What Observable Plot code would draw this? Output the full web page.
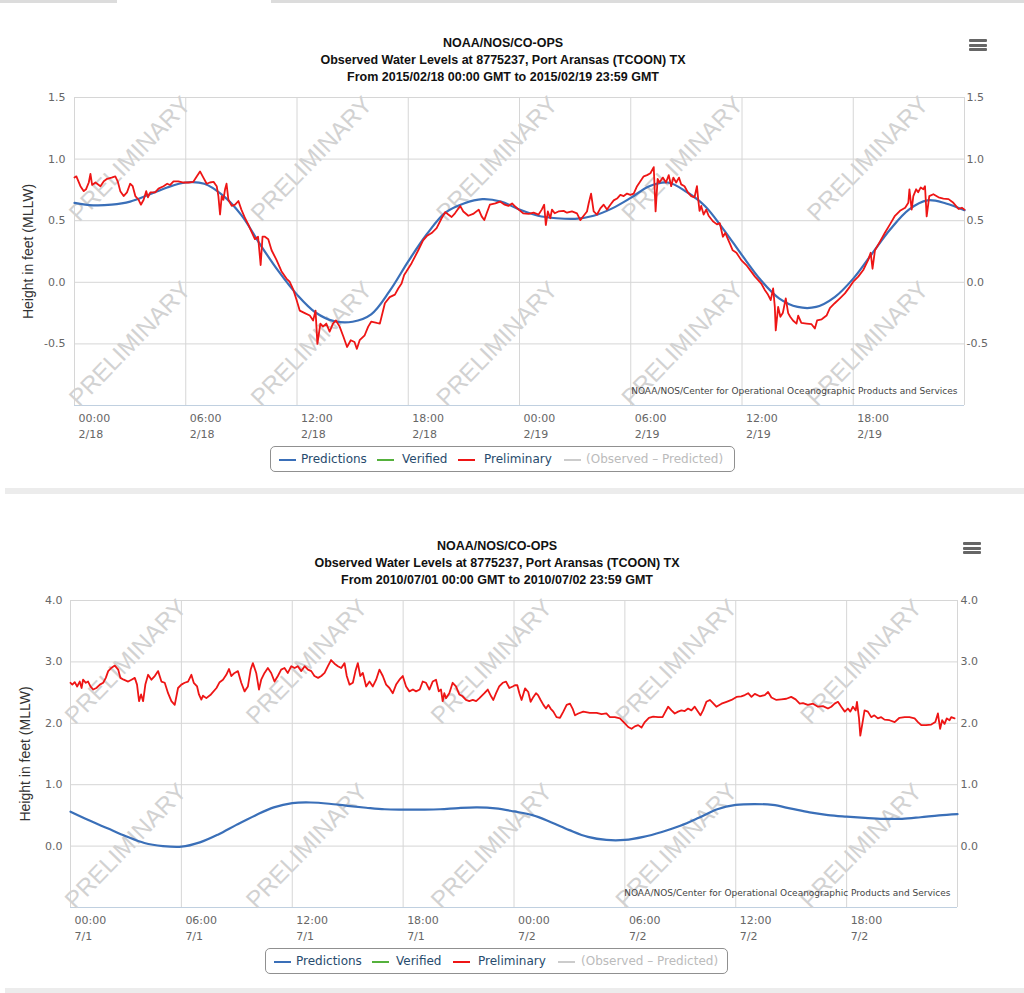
<!DOCTYPE html>
<html>
<head>
<meta charset="utf-8">
<script src="https://cdn.jsdelivr.net/npm/d3@7"></script>
<script src="https://cdn.jsdelivr.net/npm/@observablehq/plot@0.6"></script>
<style>
  html, body { margin: 0; padding: 0; background: #fff; }
  body { width: 1024px; height: 993px; position: relative; overflow: hidden; font-family: "Liberation Sans", Arial, sans-serif; }
  .title { position: absolute; left: 0; text-align: center; font-weight: bold; font-size: 12.5px; color: #111; line-height: 17px; }
  .legend { position: absolute; border: 1px solid #909090; border-radius: 5px; box-sizing: border-box; font-family: "DejaVu Sans", sans-serif; font-size: 12px; color: #274b6d; }
  .legend .sym { position: absolute; height: 2px; width: 17px; }
  .legend .txt { position: absolute; white-space: nowrap; line-height: 14px; }
  .burger { position: absolute; width: 18px; }
  .burger div { height: 3px; background: #666; margin-bottom: 1.5px; border-radius: 1px; }
  .bar { position: absolute; background: #e6e6e6; }
</style>
</head>
<body>
<script>
// ---------------- DATA ----------------
// Panel 1: 2015/02/18 - 2015/02/19 (hours since 2015-02-18 00:00 GMT)
const topTitle = ["NOAA/NOS/CO-OPS", "Observed Water Levels at 8775237, Port Aransas (TCOON) TX", "From 2015/02/18 00:00 GMT to 2015/02/19 23:59 GMT"];
const topPredHours = d3.range(0, 49); // hourly
const topPredLevels = [0.645, 0.625, 0.63, 0.655, 0.71, 0.77, 0.81, 0.80, 0.705, 0.545, 0.31, 0.09, -0.10, -0.245, -0.315, -0.32, -0.26, -0.07, 0.17, 0.39, 0.565, 0.64, 0.675, 0.655, 0.59, 0.54, 0.52, 0.515, 0.54, 0.60, 0.685, 0.78, 0.81, 0.735, 0.62, 0.43, 0.22, 0.02, -0.13, -0.20, -0.20, -0.12, 0.03, 0.23, 0.43, 0.59, 0.665, 0.64, 0.585];
const topObserved = [
  [0,0.85],[0.1,0.86],[0.32,0.78],[0.5,0.74],[0.62,0.755],[0.77,0.81],[0.86,0.88],[0.95,0.79],[1.13,0.81],[1.4,0.78],[1.58,0.82],[1.76,0.84],[2.0,0.85],[2.2,0.86],[2.33,0.82],[2.47,0.74],[2.65,0.70],[2.83,0.73],[3.0,0.80],[3.14,0.78],[3.28,0.70],[3.46,0.67],[3.58,0.63],[3.73,0.67],[3.87,0.74],[3.96,0.69],[4.09,0.73],[4.35,0.73],[4.53,0.76],[4.8,0.78],[5.0,0.80],[5.16,0.79],[5.34,0.82],[5.6,0.82],[5.88,0.81],[6.15,0.81],[6.4,0.815],[6.6,0.86],[6.77,0.90],[6.95,0.85],[7.13,0.80],[7.3,0.81],[7.5,0.815],[7.67,0.78],[7.76,0.70],[7.85,0.55],[7.94,0.70],[8.03,0.67],[8.12,0.755],[8.2,0.80],[8.3,0.67],[8.48,0.62],[8.66,0.63],[8.84,0.66],[9.0,0.59],[9.2,0.52],[9.37,0.47],[9.55,0.41],[9.73,0.35],[9.9,0.37],[10.04,0.14],[10.14,0.37],[10.27,0.37],[10.45,0.35],[10.63,0.26],[10.9,0.18],[11.16,0.09],[11.43,0.03],[11.6,0.005],[11.8,-0.06],[11.97,-0.14],[12.15,-0.23],[12.42,-0.25],[12.69,-0.27],[12.87,-0.31],[13.0,-0.23],[13.1,-0.50],[13.26,-0.335],[13.4,-0.36],[13.58,-0.335],[13.76,-0.40],[13.94,-0.335],[14.1,-0.31],[14.3,-0.36],[14.5,-0.44],[14.7,-0.525],[14.9,-0.47],[15.1,-0.485],[15.23,-0.54],[15.38,-0.47],[15.65,-0.43],
  [15.84,-0.36],[16.0,-0.32],[16.3,-0.33],[16.47,-0.335],[16.56,-0.28],[16.74,-0.17],[17.0,-0.12],[17.28,-0.10],[17.46,-0.05],[17.64,-0.01],[17.78,0.06],[17.9,0.087],[18.18,0.155],[18.54,0.26],[18.8,0.34],[19.0,0.375],[19.26,0.40],[19.53,0.44],[19.8,0.52],[20.0,0.57],[20.16,0.55],[20.34,0.53],[20.52,0.56],[20.8,0.62],[20.97,0.575],[21.24,0.54],[21.5,0.555],[21.8,0.59],[21.96,0.535],[22.1,0.505],[22.23,0.56],[22.4,0.63],[22.7,0.64],[22.95,0.655],[23.2,0.63],[23.4,0.62],[23.6,0.64],[23.77,0.615],[23.96,0.59],[24.2,0.56],[24.5,0.555],[24.76,0.565],[25.03,0.55],[25.2,0.59],[25.33,0.63],[25.42,0.465],[25.53,0.575],[25.66,0.52],[25.75,0.59],[25.9,0.56],[26.1,0.575],[26.38,0.58],[26.56,0.565],[26.83,0.575],[27.1,0.56],[27.28,0.505],[27.46,0.54],[27.64,0.575],[27.73,0.64],[27.86,0.72],[28.0,0.575],[28.18,0.55],[28.36,0.60],[28.54,0.63],[28.72,0.59],[28.9,0.63],[29.08,0.665],[29.26,0.68],[29.44,0.71],[29.62,0.70],[29.8,0.72],[29.98,0.71],[30.16,0.72],[30.34,0.78],[30.52,0.82],[30.7,0.86],[30.88,0.87],[31.06,0.885],[31.24,0.935],[31.34,0.575],[31.45,0.84],
  [31.55,0.81],[31.73,0.85],[31.9,0.81],[32.05,0.87],[32.18,0.78],[32.3,0.85],[32.45,0.81],[32.6,0.85],[32.72,0.795],[32.9,0.78],[33.08,0.73],[33.26,0.70],[33.44,0.69],[33.57,0.78],[33.64,0.67],[33.71,0.58],[33.8,0.62],[33.93,0.55],[34.07,0.59],[34.2,0.54],[34.43,0.495],[34.65,0.47],[34.8,0.48],[34.97,0.37],[35.1,0.40],[35.24,0.35],[35.37,0.305],[35.5,0.26],[35.7,0.24],[35.96,0.18],[36.23,0.14],[36.5,0.087],[36.7,0.046],[36.86,0.02],[37.04,-0.01],[37.22,-0.06],[37.4,-0.10],[37.55,-0.145],[37.68,-0.05],[37.77,-0.20],[37.82,-0.39],[37.95,-0.20],[38.07,-0.28],[38.2,-0.25],[38.36,-0.13],[38.49,-0.25],[38.6,-0.28],[38.75,-0.31],[38.94,-0.335],[39.03,-0.27],[39.2,-0.33],[39.48,-0.335],[39.75,-0.34],[39.93,-0.375],[40.05,-0.31],[40.3,-0.30],[40.56,-0.27],[40.74,-0.21],[41.0,-0.17],[41.28,-0.13],[41.55,-0.09],[41.82,-0.035],[42.0,0.005],[42.27,0.046],[42.54,0.10],[42.8,0.18],[42.94,0.24],[43.04,0.11],[43.17,0.26],[43.44,0.33],[43.7,0.40],[43.98,0.47],[44.25,0.54],[44.52,0.58],[44.8,0.605],[44.97,0.645],[45.03,0.755],[45.15,0.59],[45.24,0.70],[45.39,0.755],[45.5,0.73],[45.64,0.77],[45.78,0.755],[45.87,0.78],[45.96,0.535],[46.1,0.70],[46.32,0.715],[46.6,0.69],[46.86,0.68],[47.14,0.675],[47.4,0.645],[47.68,0.595],[47.86,0.605],[48.0,0.59]
];
const topYTicks = [-0.5, 0, 0.5, 1.0, 1.5];
const topYDomain = [-1, 1.5];
const topTickHours = [0, 6, 12, 18, 24, 30, 36, 42];
const topTickLabels = ["00:00\n2/18", "06:00\n2/18", "12:00\n2/18", "18:00\n2/18", "00:00\n2/19", "06:00\n2/19", "12:00\n2/19", "18:00\n2/19"];
const topWatermarkLevels = [1.0, -0.5];

// Panel 2: 2010/07/01 - 2010/07/02 (hours since 2010-07-01 00:00 GMT)
const botTitle = ["NOAA/NOS/CO-OPS", "Observed Water Levels at 8775237, Port Aransas (TCOON) TX", "From 2010/07/01 00:00 GMT to 2010/07/02 23:59 GMT"];
const botPredHours = d3.range(0, 49);
const botPredLevels = [0.56, 0.42, 0.29, 0.16, 0.05, 0.0, -0.01, 0.06, 0.19, 0.35, 0.50, 0.63, 0.70, 0.71, 0.69, 0.655, 0.625, 0.60, 0.595, 0.595, 0.60, 0.62, 0.63, 0.615, 0.565, 0.505, 0.39, 0.26, 0.15, 0.10, 0.10, 0.15, 0.23, 0.33, 0.46, 0.60, 0.67, 0.685, 0.67, 0.61, 0.55, 0.505, 0.48, 0.46, 0.445, 0.445, 0.47, 0.50, 0.52];
const botObserved = [
  [0,2.66],[0.1,2.63],[0.23,2.67],[0.36,2.60],[0.5,2.68],[0.6,2.575],[0.68,2.71],[0.83,2.66],[0.95,2.68],[1.08,2.60],[1.23,2.55],[1.4,2.575],[1.59,2.63],[1.77,2.66],[1.91,2.74],[2.04,2.85],[2.2,2.90],[2.4,2.94],[2.58,2.875],[2.7,2.74],[2.88,2.71],[3.12,2.68],[3.3,2.71],[3.48,2.74],[3.6,2.63],[3.71,2.36],[3.82,2.47],[3.93,2.36],[4.05,2.63],[4.2,2.79],[4.38,2.71],[4.56,2.77],[4.74,2.85],[4.92,2.68],[5.1,2.66],[5.28,2.49],[5.46,2.36],[5.64,2.30],[5.82,2.575],[6.0,2.63],[6.18,2.66],[6.36,2.68],[6.54,2.79],[6.67,2.66],[6.85,2.60],[6.95,2.47],[7.08,2.385],[7.17,2.45],[7.35,2.41],[7.6,2.47],[7.9,2.575],[8.07,2.67],[8.25,2.71],[8.43,2.79],[8.58,2.885],[8.7,2.77],[8.88,2.82],[9.06,2.85],[9.24,2.66],[9.42,2.52],[9.6,2.60],[9.75,2.875],[9.87,2.98],[10.05,2.82],[10.2,2.55],[10.32,2.71],[10.5,2.82],[10.68,2.90],[10.86,2.82],[11.04,2.68],[11.22,2.77],[11.4,2.875],[11.58,2.90],[11.76,2.82],[11.95,2.93],[12.13,2.90],[12.3,2.93],[12.49,2.85],[12.67,2.93],[12.85,2.875],[13.03,2.85],[13.2,2.77],[13.4,2.74],[13.57,2.77],[13.75,2.82],[13.93,2.93],[14.1,3.03],[14.29,2.97],[14.47,2.93],[14.65,2.90],[14.83,2.98],[14.95,2.77],[15.1,2.63],[15.28,2.66],[15.42,2.85],[15.55,2.98],[15.68,2.77],[15.82,2.82],[16.0,2.60],[16.18,2.68],[16.36,2.60],[16.54,2.71],[16.72,2.875],[16.9,2.77],[17.08,2.63],[17.26,2.575],[17.44,2.49],[17.62,2.63],[17.8,2.71],[17.98,2.77],[18.16,2.60],[18.34,2.52],[18.53,2.55],[18.7,2.52],[18.9,2.55],[19.06,2.68],[19.24,2.66],[19.42,2.55],[19.6,2.68],[19.78,2.71],[19.93,2.52],[20.05,2.55],[20.14,2.36],[20.23,2.49],[20.32,2.41],[20.5,2.49],[20.68,2.66],[20.86,2.60],[21.04,2.47],[21.22,2.44],[21.4,2.38],[21.58,2.36],[21.77,2.38],[21.95,2.36],[22.13,2.41],[22.4,2.49],[22.58,2.55],[22.76,2.44],[22.88,2.38],[23.03,2.49],[23.2,2.60],[23.39,2.66],[23.57,2.68],[23.75,2.575],[23.93,2.60],
  [24.05,2.62],[24.18,2.62],[24.29,2.49],[24.41,2.38],[24.6,2.57],[24.77,2.51],[24.9,2.35],[25.05,2.43],[25.19,2.49],[25.3,2.46],[25.44,2.38],[25.59,2.30],[25.73,2.24],[25.86,2.30],[25.98,2.24],[26.13,2.19],[26.3,2.10],[26.49,2.09],[26.67,2.19],[26.85,2.30],[27.03,2.32],[27.17,2.24],[27.3,2.13],[27.48,2.16],[27.75,2.19],[28.1,2.17],[28.47,2.17],[28.74,2.15],[29.0,2.16],[29.19,2.10],[29.46,2.10],[29.73,2.08],[30.0,2.0],[30.18,1.94],[30.36,1.91],[30.54,1.95],[30.72,1.97],[30.9,1.93],[31.08,2.02],[31.3,2.09],[31.53,2.11],[31.8,2.10],[32.04,2.10],[32.16,2.17],[32.34,2.27],[32.52,2.21],[32.7,2.16],[32.88,2.19],[33.06,2.21],[33.24,2.20],[33.42,2.24],[33.6,2.21],[33.78,2.27],[33.96,2.19],[34.09,2.13],[34.23,2.21],[34.41,2.35],[34.6,2.38],[34.77,2.33],[34.95,2.27],[35.23,2.32],[35.5,2.35],[35.77,2.38],[36.04,2.43],[36.3,2.44],[36.49,2.46],[36.67,2.49],[36.85,2.43],[37.03,2.48],[37.3,2.44],[37.57,2.46],[37.75,2.51],[37.93,2.42],[38.2,2.38],[38.47,2.39],[38.74,2.40],[39.0,2.43],[39.24,2.39],[39.46,2.32],[39.64,2.33],[39.9,2.30],[40.18,2.32],[40.45,2.27],[40.72,2.28],[40.99,2.24],[41.17,2.27],[41.35,2.32],[41.53,2.35],[41.71,2.27],[41.9,2.19],[42.07,2.24],[42.2,2.19],[42.34,2.27],[42.49,2.21],[42.56,2.35],[42.67,2.08],[42.74,1.80],[42.85,1.99],[42.97,2.21],[43.15,2.19],[43.33,2.10],[43.5,2.13],[43.69,2.08],[43.87,2.10],[44.05,2.06],[44.32,2.05],[44.6,2.02],[44.86,2.09],[45.14,2.10],[45.4,2.10],[45.68,2.08],[45.86,2.02],[46.04,1.97],[46.3,1.97],[46.58,1.98],[46.8,2.02],[46.94,2.16],[47.06,1.91],[47.17,2.05],[47.3,1.99],[47.42,2.08],[47.57,2.05],[47.66,2.10],[47.84,2.08]
];
const botYTicks = [0, 1.0, 2.0, 3.0, 4.0];
const botYDomain = [-1, 4];
const botTickHours = [0, 6, 12, 18, 24, 30, 36, 42];
const botTickLabels = ["00:00\n7/1", "06:00\n7/1", "12:00\n7/1", "18:00\n7/1", "00:00\n7/2", "06:00\n7/2", "12:00\n7/2", "18:00\n7/2"];
const botWatermarkLevels = [3.0, 0.0];

// shared
const gridHours = [0, 6, 12, 18, 24, 30, 36, 42, 48];
const watermarkHours = [3, 12.8, 22.8, 32.8, 42.8];
const watermarkText = "PRELIMINARY";
const yAxisTitle = "Height in feet (MLLW)";
const creditText = "NOAA/NOS/Center for Operational Oceanographic Products and Services";
const legendNames = ["Predictions", "Verified", "Preliminary", "(Observed \u2013 Predicted)"];
const seriesColors = ["#3a6fb8", "#55b13c", "#ee1515", "#cccccc"];
const legendTextColors = ["#274b6d", "#274b6d", "#274b6d", "#bbbbbb"];

// ---------------- DRAWING ----------------
function panel(cfg) {
  const body = document.body;
  const t = document.createElement("div");
  t.className = "title";
  t.style.top = cfg.titleTop + "px";
  t.style.width = cfg.titleWidth + "px";
  t.innerHTML = cfg.title.map(s => `<div>${s}</div>`).join("");
  body.appendChild(t);

  const b = document.createElement("div");
  b.className = "burger";
  b.style.left = cfg.burger[0] + "px";
  b.style.top = cfg.burger[1] + "px";
  b.innerHTML = "<div></div><div></div><div></div>";
  body.appendChild(b);

  const pred = cfg.predHours.map((h, i) => ({h, v: cfg.predLevels[i]}));
  const obs = cfg.observed.map(([h, v]) => ({h, v}));
  const wm = cfg.wmLevels.flatMap(v => watermarkHours.map(h => ({h, v})));
  const fmtY = d => d.toFixed(1);
  const fmtX = d => cfg.tickLabels[cfg.tickHours.indexOf(d)];

  const chart = Plot.plot({
    width: 1024,
    height: cfg.height,
    marginLeft: cfg.ml,
    marginRight: cfg.mr,
    marginTop: cfg.mt,
    marginBottom: cfg.mb,
    style: {fontFamily: "DejaVu Sans, sans-serif", fontSize: "11px", color: "#666", background: "transparent", overflow: "visible"},
    x: {domain: [0, 48], axis: null},
    y: {domain: cfg.yDomain, axis: null},
    marks: [
      Plot.gridY(cfg.yTicks, {stroke: "#d6d6d6", strokeOpacity: 1}),
      Plot.gridX(gridHours, {stroke: "#d6d6d6", strokeOpacity: 1}),
      Plot.ruleY([cfg.yDomain[0]], {stroke: "#c0d0e0"}),
      Plot.text(wm, {x: "h", y: "v", text: () => watermarkText, rotate: -46, fontSize: 24, fill: "#d2d2d2", fontFamily: "Liberation Sans, Arial, sans-serif"}),
      Plot.text([creditText], {frameAnchor: "bottom-right", textAnchor: "end", lineAnchor: "middle", dx: -7, dy: -14, fontSize: 9, fill: "#444", fontFamily: "DejaVu Sans, sans-serif"}),
      Plot.line(pred, {x: "h", y: "v", stroke: seriesColors[0], strokeWidth: 2.2, curve: "catmull-rom"}),
      Plot.line(obs, {x: "h", y: "v", stroke: seriesColors[2], strokeWidth: 1.8}),
      Plot.axisY(cfg.yTicks, {anchor: "left", tickSize: 0, tickPadding: cfg.padL, tickFormat: fmtY, label: null, fill: "#666"}),
      Plot.axisY(cfg.yTicks, {anchor: "right", tickSize: 0, tickPadding: cfg.padR, tickFormat: fmtY, label: null, fill: "#666"}),
      Plot.axisX(cfg.tickHours, {anchor: "bottom", tickSize: 0, tickPadding: 5, tickFormat: fmtX, textAnchor: "start", dx: 4, lineHeight: 1.45, label: null, fill: "#666"}),
      Plot.text([yAxisTitle], {frameAnchor: "left", rotate: -90, textAnchor: "middle", lineAnchor: "middle", dx: cfg.titleDx, fontSize: 14, fill: "#333", fontFamily: "Liberation Sans, Arial, sans-serif"})
    ]
  });
  chart.style.position = "absolute";
  chart.style.left = "0px";
  chart.style.top = cfg.svgTop + "px";
  body.appendChild(chart);

  const lg = document.createElement("div");
  lg.className = "legend";
  lg.style.left = cfg.legend.left + "px";
  lg.style.top = cfg.legend.top + "px";
  lg.style.width = cfg.legend.width + "px";
  lg.style.height = "26px";
  let html = "";
  legendNames.forEach((name, i) => {
    html += `<div class="sym" style="left:${cfg.legend.sym[i]}px;top:12px;background:${seriesColors[i]}"></div>`;
    html += `<div class="txt" style="left:${cfg.legend.txt[i]}px;top:5px;color:${legendTextColors[i]}">${name}</div>`;
  });
  lg.innerHTML = html;
  body.appendChild(lg);
}

function bar(l, t, w, h, c) {
  const d = document.createElement("div");
  d.className = "bar";
  d.style.cssText = `left:${l}px;top:${t}px;width:${w}px;height:${h}px;background:${c}`;
  document.body.appendChild(d);
}
bar(0, 0, 117, 3, "#dcdcdc");
bar(271, 0, 753, 3, "#dcdcdc");
bar(5, 488, 1019, 6, "#ececec");
bar(5, 988, 1019, 5, "#ececec");

panel({
  title: topTitle, titleTop: 35, titleWidth: 1006, burger: [969, 39],
  predHours: topPredHours, predLevels: topPredLevels, observed: topObserved,
  yTicks: topYTicks, yDomain: topYDomain, tickHours: topTickHours, tickLabels: topTickLabels, wmLevels: topWatermarkLevels,
  svgTop: 90, height: 360, ml: 74, mr: 60, mt: 7, mb: 45, padL: 9, padR: 2, titleDx: -46,
  legend: {left: 270, top: 446, width: 465, sym: [8, 106, 187, 293], txt: [30, 131, 213, 315]}
});

panel({
  title: botTitle, titleTop: 538, titleWidth: 994, burger: [963, 542],
  predHours: botPredHours, predLevels: botPredLevels, observed: botObserved,
  yTicks: botYTicks, yDomain: botYDomain, tickHours: botTickHours, tickLabels: botTickLabels, wmLevels: botWatermarkLevels,
  svgTop: 593, height: 359, ml: 70, mr: 67, mt: 7, mb: 45, padL: 8, padR: 3, titleDx: -45,
  legend: {left: 265, top: 948, width: 463, sym: [8, 106, 187, 292], txt: [30, 130, 212, 315]}
});
</script>
</body>
</html>
